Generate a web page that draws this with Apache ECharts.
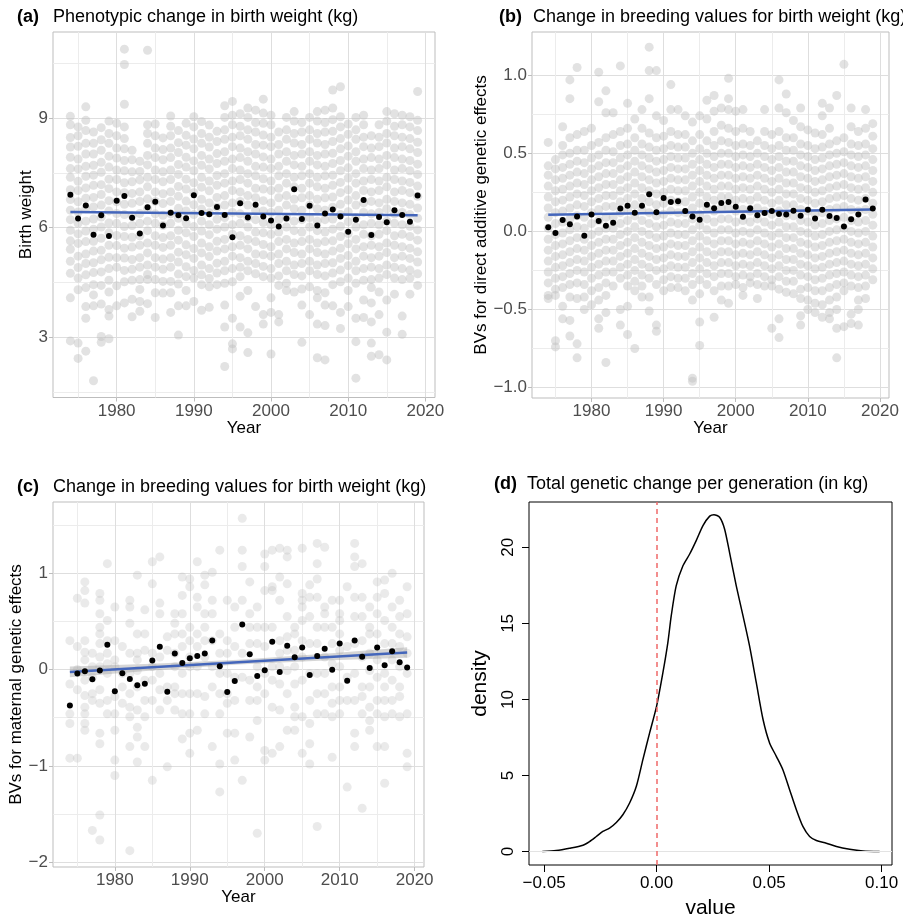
<!DOCTYPE html>
<html>
<head>
<meta charset="utf-8">
<script src="https://cdn.jsdelivr.net/npm/echarts@6/dist/echarts.min.js"></script>
<style>
  html, body { margin: 0; padding: 0; background: #fff; }
  #chart { width: 903px; height: 917px; }
</style>
</head>
<body>
<div id="chart"></div>
<script>
// ---- data ----
const years = [1974, 1975, 1976, 1977, 1978, 1979, 1980, 1981, 1982, 1983, 1984, 1985, 1986, 1987, 1988, 1989,
  1990, 1991, 1992, 1993, 1994, 1995, 1996, 1997, 1998, 1999, 2000, 2001, 2002, 2003, 2004, 2005, 2006,
  2007, 2008, 2009, 2010, 2011, 2012, 2013, 2014, 2015, 2016, 2017, 2018, 2019];

// yearly means (black dots)
const meanA = [6.90, 6.25, 6.61, 5.81, 6.34, 5.77, 6.74, 6.87, 6.27, 5.84, 6.56, 6.71, 6.06, 6.41, 6.34, 6.26,
  6.89, 6.40, 6.37, 6.57, 6.35, 5.74, 6.67, 6.28, 6.63, 6.31, 6.20, 6.03, 6.25, 7.05, 6.24, 6.60, 6.06,
  6.39, 6.50, 6.31, 5.89, 6.22, 6.76, 5.80, 6.29, 6.15, 6.48, 6.35, 6.16, 6.88];
const meanB = [0.026, -0.011, 0.073, 0.045, 0.096, -0.028, 0.109, 0.066, 0.036, 0.056, 0.146, 0.165, 0.120,
  0.165, 0.238, 0.122, 0.214, 0.188, 0.193, 0.131, 0.096, 0.075, 0.171, 0.148, 0.182, 0.188, 0.158, 0.094,
  0.148, 0.103, 0.118, 0.131, 0.111, 0.109, 0.133, 0.100, 0.139, 0.083, 0.139, 0.098, 0.086, 0.032, 0.077,
  0.109, 0.205, 0.146];
const meanC = [-0.372, -0.042, -0.017, -0.100, -0.010, 0.257, -0.226, -0.038, -0.097, -0.163, -0.146, 0.094,
  0.236, -0.229, 0.167, 0.069, 0.118, 0.142, 0.167, 0.302, 0.035, -0.233, -0.118, 0.469, 0.160, -0.066,
  -0.007, 0.288, -0.024, 0.247, 0.128, 0.229, -0.056, 0.142, 0.215, -0.003, 0.271, -0.115, 0.302, 0.132,
  0.017, 0.229, 0.045, 0.191, 0.076, 0.021];

// fitted regression lines (end points) and ribbon of panel (c)
const fitA = [[1974, 6.43], [2019, 6.34]];
const fitB = [[1974, 0.107], [2019, 0.141]];
const fitC = [[1974, -0.024], [2019, 0.177]];
const ribbonYearsC = [1974, 1985, 1996.5, 2008, 2019];
const ribbonLoC = [-0.079, -0.010, 0.052, 0.093, 0.122];
const ribbonHiC = [0.031, 0.060, 0.102, 0.163, 0.232];

// individual records per year (grey clouds), one list per year
const cloudA = [
  [9.05,8.82,8.47,8.21,7.93,7.62,7.38,7.04,6.77,6.48,6.22,5.93,5.64,5.41,5.08,4.75,4.08,2.9],
  [8.76,8.52,8.23,7.88,7.61,7.27,7.02,6.71,6.43,6.12,5.83,5.57,5.22,4.91,4.62,4.3,2.84,2.42],
  [9.31,8.94,8.66,8.31,8.02,7.68,7.41,7.09,6.81,6.52,6.18,5.91,5.62,5.28,5.02,4.71,4.36,3.84,3.52,2.62],
  [8.62,8.31,8.02,7.71,7.44,7.16,6.83,6.57,6.24,5.96,5.63,5.36,5.04,4.77,4.44,4.16,3.86,1.81],
  [8.74,8.41,8.12,7.79,7.52,7.18,6.91,6.62,6.29,6.02,5.71,5.38,5.12,4.79,4.42,3.91,3.02,2.86],
  [8.92,8.58,8.31,7.96,7.66,7.33,7.07,6.74,6.46,6.13,5.86,5.52,5.19,4.88,4.56,4.24,3.76,3.58,2.96],
  [8.86,8.52,8.18,7.91,7.58,7.32,6.98,6.71,6.39,6.12,5.79,5.51,5.18,4.92,4.41,3.86],
  [10.89,10.47,9.38,8.76,8.44,8.16,7.84,7.56,7.23,6.96,6.64,6.36,6.03,5.76,5.44,5.17,4.83,4.52,3.94],
  [8.12,7.86,7.53,7.26,6.94,6.67,6.33,6.06,5.74,5.47,5.13,4.86,4.56,4.04,3.56],
  [7.82,7.54,7.31,6.98,6.72,6.39,6.12,5.78,5.52,5.18,4.92,4.58,4.31,3.98,3.71],
  [10.86,8.82,8.58,8.31,7.98,7.72,7.38,7.12,6.79,6.52,6.18,5.92,5.58,5.31,4.98,4.72,4.58,3.92],
  [8.84,8.52,8.18,7.92,7.58,7.32,6.98,6.72,6.38,6.12,5.78,5.52,5.18,4.92,4.58,4.22,3.54],
  [8.46,8.14,7.86,7.53,7.26,6.93,6.66,6.34,6.06,5.73,5.46,5.14,4.86,4.53,4.21],
  [9.06,8.78,8.52,8.18,7.92,7.58,7.32,6.98,6.72,6.38,6.12,5.78,5.52,5.18,4.92,4.53,4.22,3.68],
  [8.66,8.33,8.06,7.73,7.46,7.13,6.86,6.53,6.26,5.93,5.66,5.33,5.06,4.73,4.46,3.86,3.06],
  [8.86,8.53,8.26,7.93,7.66,7.33,7.06,6.73,6.46,6.13,5.86,5.53,5.26,4.93,4.66,4.28,3.86],
  [9.04,8.76,8.43,8.16,7.83,7.56,7.23,6.96,6.63,6.36,6.03,5.76,5.43,5.16,4.83,4.62,3.98],
  [8.91,8.58,8.31,7.98,7.71,7.38,7.11,6.78,6.51,6.18,5.91,5.58,5.31,4.98,4.71,4.44,3.74],
  [8.81,8.48,8.21,7.88,7.61,7.28,7.01,6.68,6.41,6.08,5.81,5.48,5.21,4.88,4.61,4.38,3.82],
  [8.64,8.36,8.03,7.76,7.43,7.16,6.83,6.56,6.23,5.96,5.63,5.36,5.03,4.76,4.44],
  [9.34,9.02,8.68,8.42,8.08,7.82,7.48,7.22,6.88,6.62,6.28,6.02,5.68,5.42,5.08,4.82,4.48,3.88,3.28,2.2],
  [9.46,9.08,8.82,8.48,8.22,7.88,7.62,7.28,7.02,6.68,6.42,6.08,5.82,5.48,5.22,4.88,4.52,3.52,2.82,2.68],
  [9.12,8.78,8.52,8.18,7.92,7.58,7.32,6.98,6.72,6.38,6.12,5.78,5.52,5.18,4.92,4.66,4.12,3.28],
  [9.28,9.02,8.68,8.42,8.08,7.82,7.48,7.22,6.88,6.62,6.28,6.02,5.68,5.42,5.08,4.82,4.28,3.12,2.58],
  [9.22,8.88,8.62,8.28,8.02,7.68,7.42,7.08,6.82,6.48,6.22,5.88,5.62,5.28,5.02,4.74,3.84],
  [9.52,9.14,8.86,8.54,8.26,7.94,7.66,7.34,7.06,6.74,6.46,6.14,5.86,5.54,5.26,4.94,4.66,3.62,3.36],
  [9.08,8.82,8.48,8.22,7.88,7.62,7.28,7.02,6.68,6.42,6.08,5.82,5.48,5.22,4.88,4.62,4.08,3.68,2.54],
  [8.62,8.28,8.02,7.68,7.42,7.08,6.82,6.48,6.22,5.88,5.62,5.28,5.02,4.68,4.42,3.62,3.42],
  [9.02,8.68,8.42,8.08,7.82,7.48,7.22,6.88,6.62,6.28,6.02,5.68,5.42,5.08,4.82,4.48,4.28],
  [9.18,8.92,8.58,8.32,7.98,7.72,7.38,7.12,6.78,6.52,6.18,5.92,5.58,5.32,4.98,4.72,4.24],
  [8.88,8.62,8.28,8.02,7.68,7.42,7.08,6.82,6.48,6.22,5.88,5.62,5.28,5.02,4.68,4.32,3.88,2.86],
  [9.02,8.68,8.42,8.08,7.82,7.48,7.22,6.88,6.62,6.28,6.02,5.68,5.42,5.08,4.82,4.38,3.62],
  [9.18,8.92,8.58,8.32,7.98,7.72,7.38,7.12,6.78,6.52,6.18,5.92,5.58,5.32,4.98,4.72,4.28,4.08,3.36,2.44],
  [9.22,8.88,8.62,8.28,8.02,7.68,7.42,7.08,6.82,6.48,6.22,5.88,5.62,5.28,5.02,4.68,4.22,3.88,3.32,2.38],
  [9.77,9.28,8.96,8.64,8.36,8.04,7.76,7.44,7.16,6.84,6.56,6.24,5.96,5.64,5.36,5.04,4.76,4.44,3.86],
  [9.86,9.04,8.76,8.44,8.16,7.84,7.56,7.24,6.96,6.64,6.36,6.04,5.76,5.44,5.16,4.84,4.52,3.68,3.24],
  [8.84,8.56,8.24,7.96,7.64,7.36,7.04,6.76,6.44,6.16,5.84,5.56,5.24,4.96,4.62,4.28,3.84],
  [9.02,8.68,8.42,8.08,7.82,7.48,7.22,6.88,6.62,6.28,6.02,5.68,5.42,5.08,4.82,4.48,3.52,2.88,1.88],
  [9.08,8.82,8.48,8.22,7.88,7.62,7.28,7.02,6.68,6.42,6.08,5.82,5.48,5.22,4.88,4.56,4.02,3.54],
  [8.52,8.18,7.92,7.58,7.32,6.98,6.72,6.38,6.12,5.78,5.52,5.18,4.92,4.58,4.36,3.94,3.42,2.84,2.48],
  [8.82,8.48,8.22,7.88,7.62,7.28,7.02,6.68,6.42,6.08,5.82,5.48,5.22,4.88,4.62,4.24,3.62,2.52],
  [9.18,8.92,8.58,8.32,7.98,7.72,7.38,7.12,6.78,6.52,6.18,5.92,5.58,5.32,4.98,4.72,4.02,3.14,2.38],
  [9.12,8.78,8.52,8.18,7.92,7.58,7.32,6.98,6.72,6.38,6.12,5.78,5.52,5.18,4.92,4.62,4.18],
  [9.08,8.82,8.48,8.22,7.88,7.62,7.28,7.02,6.68,6.42,6.08,5.82,5.48,5.22,4.88,4.58,3.58,3.08],
  [9.04,8.76,8.44,8.16,7.84,7.56,7.24,6.96,6.64,6.36,6.04,5.76,5.44,5.16,4.84,4.62,4.18],
  [9.73,8.94,8.66,8.34,8.06,7.74,7.46,7.14,6.86,6.54,6.26,5.94,5.66,5.34,5.06,4.74,4.42]
];
const cloudB = [
  [0.57,0.42,0.36,0.29,0.22,0.15,0.09,0.02,-0.05,-0.12,-0.19,-0.26,-0.33,-0.41,-0.43],
  [0.46,0.4,0.33,0.26,0.19,0.12,0.05,-0.02,-0.09,-0.16,-0.23,-0.3,-0.37,-0.41,-0.7,-0.74],
  [0.67,0.55,0.49,0.41,0.34,0.27,0.2,0.13,0.06,-0.01,-0.08,-0.15,-0.22,-0.29,-0.36,-0.48,-0.56],
  [0.97,0.85,0.6,0.5,0.43,0.36,0.29,0.22,0.15,0.08,0.01,-0.06,-0.13,-0.2,-0.27,-0.34,-0.42,-0.57,-0.67],
  [1.05,0.62,0.52,0.45,0.38,0.31,0.24,0.17,0.1,0.03,-0.04,-0.11,-0.18,-0.25,-0.33,-0.43,-0.72,-0.81],
  [0.64,0.52,0.44,0.37,0.3,0.23,0.16,0.09,0.02,-0.05,-0.12,-0.19,-0.26,-0.34,-0.42,-0.5],
  [0.66,0.55,0.47,0.4,0.33,0.26,0.19,0.12,0.05,-0.02,-0.09,-0.16,-0.23,-0.3,-0.38,-0.47],
  [1.02,0.83,0.57,0.49,0.42,0.35,0.28,0.21,0.14,0.07,0.0,-0.07,-0.14,-0.21,-0.28,-0.36,-0.44,-0.56,-0.62],
  [0.9,0.76,0.6,0.52,0.44,0.37,0.3,0.23,0.16,0.09,0.02,-0.05,-0.12,-0.19,-0.26,-0.33,-0.41,-0.52,-0.84],
  [0.76,0.62,0.51,0.44,0.37,0.3,0.23,0.16,0.09,0.02,-0.05,-0.12,-0.19,-0.26,-0.35],
  [1.06,0.64,0.55,0.47,0.4,0.33,0.26,0.19,0.12,0.05,-0.02,-0.09,-0.16,-0.23,-0.3,-0.5,-0.6],
  [0.82,0.66,0.56,0.49,0.42,0.35,0.28,0.21,0.14,0.07,0.0,-0.07,-0.14,-0.21,-0.28,-0.35,-0.48,-0.66],
  [0.72,0.6,0.52,0.45,0.38,0.31,0.24,0.17,0.1,0.03,-0.04,-0.11,-0.18,-0.25,-0.32,-0.38,-0.75],
  [0.78,0.66,0.56,0.49,0.42,0.35,0.28,0.21,0.14,0.07,0.0,-0.07,-0.14,-0.21,-0.28,-0.35,-0.42],
  [1.18,1.03,0.85,0.63,0.54,0.47,0.4,0.33,0.26,0.19,0.12,0.05,-0.02,-0.09,-0.16,-0.23,-0.3,-0.42,-0.51],
  [1.03,0.74,0.6,0.52,0.45,0.38,0.31,0.24,0.17,0.1,0.03,-0.04,-0.11,-0.18,-0.25,-0.34,-0.6,-0.64],
  [0.71,0.61,0.53,0.46,0.39,0.32,0.25,0.18,0.11,0.04,-0.03,-0.1,-0.17,-0.24,-0.31,-0.38],
  [0.94,0.78,0.64,0.55,0.48,0.41,0.34,0.27,0.2,0.13,0.06,-0.01,-0.08,-0.15,-0.22,-0.29,-0.36],
  [0.78,0.62,0.54,0.47,0.4,0.33,0.26,0.19,0.12,0.05,-0.02,-0.09,-0.16,-0.23,-0.3,-0.36],
  [0.74,0.62,0.54,0.47,0.4,0.33,0.26,0.19,0.12,0.05,-0.02,-0.09,-0.16,-0.23,-0.3,-0.38],
  [0.7,0.58,0.5,0.43,0.36,0.29,0.22,0.15,0.08,0.01,-0.06,-0.13,-0.2,-0.27,-0.34,-0.44,-0.94,-0.96],
  [0.74,0.62,0.53,0.46,0.39,0.32,0.25,0.18,0.11,0.04,-0.03,-0.1,-0.17,-0.24,-0.31,-0.4,-0.58,-0.73],
  [0.84,0.72,0.58,0.5,0.43,0.36,0.29,0.22,0.15,0.08,0.01,-0.06,-0.13,-0.2,-0.27,-0.34],
  [0.87,0.77,0.64,0.55,0.48,0.41,0.34,0.27,0.2,0.13,0.06,-0.01,-0.08,-0.15,-0.22,-0.29,-0.38,-0.55],
  [0.79,0.68,0.58,0.5,0.43,0.36,0.29,0.22,0.15,0.08,0.01,-0.06,-0.13,-0.2,-0.27,-0.35,-0.44],
  [0.98,0.85,0.78,0.66,0.57,0.5,0.43,0.36,0.29,0.22,0.15,0.08,0.01,-0.06,-0.13,-0.2,-0.27,-0.35,-0.46],
  [0.77,0.64,0.55,0.48,0.41,0.34,0.27,0.2,0.13,0.06,-0.01,-0.08,-0.15,-0.22,-0.29,-0.34],
  [0.78,0.66,0.56,0.49,0.42,0.35,0.28,0.21,0.14,0.07,0.0,-0.07,-0.14,-0.21,-0.28,-0.36,-0.41],
  [0.64,0.55,0.48,0.41,0.34,0.27,0.2,0.13,0.06,-0.01,-0.08,-0.15,-0.22,-0.29,-0.33],
  [0.58,0.5,0.43,0.36,0.29,0.22,0.15,0.08,0.01,-0.06,-0.13,-0.2,-0.27,-0.34,-0.43],
  [0.78,0.64,0.55,0.48,0.41,0.34,0.27,0.2,0.13,0.06,-0.01,-0.08,-0.15,-0.22,-0.29,-0.35],
  [0.62,0.53,0.46,0.39,0.32,0.25,0.18,0.11,0.04,-0.03,-0.1,-0.17,-0.24,-0.31,-0.35,-0.62],
  [0.97,0.79,0.64,0.55,0.48,0.41,0.34,0.27,0.2,0.13,0.06,-0.01,-0.08,-0.15,-0.22,-0.29,-0.37,-0.56,-0.68],
  [0.88,0.76,0.6,0.52,0.45,0.38,0.31,0.24,0.17,0.1,0.03,-0.04,-0.11,-0.18,-0.25,-0.32,-0.39],
  [0.71,0.6,0.52,0.45,0.38,0.31,0.24,0.17,0.1,0.03,-0.04,-0.11,-0.18,-0.25,-0.32,-0.4],
  [0.79,0.67,0.56,0.49,0.42,0.35,0.28,0.21,0.14,0.07,0.0,-0.07,-0.14,-0.21,-0.28,-0.37,-0.43,-0.54,-0.6],
  [0.65,0.55,0.48,0.41,0.34,0.27,0.2,0.13,0.06,-0.01,-0.08,-0.15,-0.22,-0.29,-0.36,-0.44,-0.5],
  [0.63,0.53,0.46,0.39,0.32,0.25,0.18,0.11,0.04,-0.03,-0.1,-0.17,-0.24,-0.31,-0.38,-0.46,-0.52],
  [0.82,0.74,0.62,0.54,0.47,0.4,0.33,0.26,0.19,0.12,0.05,-0.02,-0.09,-0.16,-0.23,-0.3,-0.38,-0.47,-0.55],
  [0.79,0.66,0.56,0.49,0.42,0.35,0.28,0.21,0.14,0.07,0.0,-0.07,-0.14,-0.21,-0.28,-0.36,-0.44,-0.52,-0.56],
  [0.87,0.58,0.5,0.43,0.36,0.29,0.22,0.15,0.08,0.01,-0.06,-0.13,-0.2,-0.27,-0.34,-0.42,-0.5,-0.62,-0.81],
  [1.07,0.6,0.51,0.44,0.37,0.3,0.23,0.16,0.09,0.02,-0.05,-0.12,-0.19,-0.26,-0.33,-0.38,-0.61],
  [0.79,0.67,0.56,0.49,0.42,0.35,0.28,0.21,0.14,0.07,0.0,-0.07,-0.14,-0.21,-0.28,-0.35,-0.53,-0.59],
  [0.64,0.55,0.48,0.41,0.34,0.27,0.2,0.13,0.06,-0.01,-0.08,-0.15,-0.22,-0.29,-0.36,-0.44,-0.5,-0.6],
  [0.78,0.66,0.56,0.49,0.42,0.35,0.28,0.21,0.14,0.07,0.0,-0.07,-0.14,-0.21,-0.28,-0.35,-0.43],
  [0.69,0.61,0.53,0.46,0.39,0.32,0.25,0.18,0.11,0.04,-0.03,-0.1,-0.17,-0.24,-0.31]
];
const cloudC = [
  [0.3,-0.15,-0.46,-0.56,-0.92],
  [0.74,0.24,0.0,-0.21,-0.92],
  [0.91,0.82,0.69,0.3,0.18,0.1,-0.11,-0.27,-0.39,-0.46,-0.56,-0.63],
  [0.17,0.03,-0.08,-0.25,-0.32,-1.67],
  [0.79,0.72,0.58,0.44,0.37,0.27,0.13,0.03,-0.21,-0.35,-0.66,-0.77,-1.51,-1.77],
  [1.1,0.51,0.3,0.17,0.06,-0.04,-0.32,-0.46],
  [0.65,0.3,0.1,0.03,-0.28,-0.46,-0.63,-0.94,-1.1],
  [0.24,-0.04,-0.18,-0.35],
  [0.72,0.65,0.48,0.17,-0.04,-0.25,-0.39,-0.49,-0.8,-1.88],
  [0.98,0.37,0.17,0.1,-0.01,-0.18,-0.42,-0.6,-0.7,-0.96],
  [0.62,0.37,0.2,-0.11,-0.32,-0.49,-0.8],
  [1.12,0.89,0.17,0.03,-0.11,-0.32,-1.15],
  [1.17,0.69,0.58,0.13,-0.04,-0.21,-0.42],
  [0.34,0.2,-0.18,-0.32,-1.01],
  [0.58,0.48,0.37,0.17,0.03,-0.18,-0.25,-0.42],
  [0.96,0.77,0.58,0.37,0.24,-0.04,-0.25,-0.46,-0.72],
  [0.94,0.86,0.44,0.3,0.13,0.03,-0.25,-0.46,-0.66,-0.87],
  [1.12,0.75,0.65,0.37,0.24,0.03,-0.25,-0.63],
  [0.98,0.88,0.58,0.44,0.3,0.13,-0.28,-0.46],
  [1.01,0.72,0.58,0.3,0.03,-0.18,-0.8],
  [1.24,0.37,0.17,-0.04,-0.25,-0.46,-0.98,-1.27],
  [0.72,0.3,0.17,-0.04,-0.25,-0.35,-0.66],
  [0.65,0.44,0.24,-0.08,-0.32,-0.66,-0.94],
  [1.57,1.24,1.07,0.72,0.17,-0.08,-1.15],
  [0.91,0.58,0.44,0.27,-0.11,-0.32,-0.7],
  [0.65,0.44,0.27,0.03,-0.18,-0.32,-0.53,-1.7],
  [1.2,1.07,0.82,0.44,0.24,-0.04,-0.25,-0.84,-0.94],
  [1.24,0.86,0.82,0.44,0.03,-0.11,-0.39,-0.87],
  [1.26,0.96,0.72,0.3,0.17,0.03,-0.15,-0.42,-0.8],
  [1.24,1.17,0.89,0.55,0.34,0.2,-0.01,-0.25,-0.63],
  [0.44,0.37,0.2,0.03,-0.15,-0.39,-0.49,-0.63],
  [1.26,0.79,0.72,0.65,0.51,0.3,0.13,-0.11,-0.49,-0.87],
  [0.88,0.75,0.55,0.27,-0.04,-0.32,-0.56,-0.77,-0.98],
  [1.31,1.1,0.94,0.75,0.44,0.27,-0.04,-0.25,-0.46,-1.63],
  [1.27,0.65,0.58,0.44,0.13,-0.04,-0.25,-0.46],
  [0.72,0.44,0.27,0.06,-0.18,-0.35,-0.49,-0.91],
  [0.72,0.58,0.51,0.37,0.2,0.03,-0.18,-0.32,-0.46],
  [0.86,0.24,-0.08,-0.32,-1.22],
  [1.31,1.17,1.07,0.75,0.55,0.27,-0.04,-0.32,-0.66,-0.8],
  [1.1,0.75,0.55,0.3,0.13,-0.18,-0.28,-0.46,-1.44],
  [0.65,0.44,0.37,0.17,-0.01,-0.18,-0.39,-0.53,-0.63],
  [0.91,0.75,0.58,0.37,0.1,-0.08,-0.32,-0.46,-0.8],
  [0.93,0.79,0.51,0.27,-0.04,-0.18,-0.32,-0.49,-0.8,-1.18],
  [1.0,0.65,0.44,0.27,0.1,-0.11,-0.32,-0.46],
  [0.72,0.55,0.37,0.24,0.03,-0.18,-0.28,-0.49],
  [0.86,0.58,0.34,0.17,-0.04,-0.46,-0.87,-1.01]
];

// density of total genetic change (panel d)
const densX = [-0.0508, -0.0446, -0.0387, -0.0327, -0.0298, -0.0268, -0.0239, -0.0209, -0.0179, -0.015,
  -0.012, -0.009, -0.0061, -0.0031, 0, 0.0028, 0.005, 0.0065, 0.0087, 0.0117, 0.0147, 0.0176, 0.0206,
  0.0236, 0.0255, 0.028, 0.0302, 0.0324, 0.0354, 0.0384, 0.0413, 0.0443, 0.0473, 0.0502, 0.0532, 0.0561,
  0.0591, 0.0621, 0.065, 0.068, 0.071, 0.0754, 0.0799, 0.0858, 0.0917, 0.0991];
const densY = [0, 0.07, 0.22, 0.42, 0.66, 0.99, 1.32, 1.54, 1.91, 2.42, 3.19, 4.29, 6.04, 7.8, 9.56, 11.76,
  13.74, 15.49, 17.47, 18.79, 19.56, 20.44, 21.43, 22.05, 22.15, 21.98, 21.21, 19.67, 17.47, 15.49, 13.52,
  11.1, 8.68, 7.14, 6.26, 5.38, 4.07, 2.75, 1.65, 0.99, 0.73, 0.55, 0.33, 0.15, 0.04, 0];

// tick positions
const yearMajor = [1980, 1990, 2000, 2010, 2020];
const yearMinor = [1975, 1985, 1995, 2005, 2015];
const aMajor = [3, 6, 9];
const aMinor = [1.5, 4.5, 7.5, 10.5];
const bMajor = [-1, -0.5, 0, 0.5, 1];
const bMinor = [-0.75, -0.25, 0.25, 0.75];
const cMajor = [-2, -1, 0, 1];
const cMinor = [-1.5, -0.5, 0.5, 1.5];
const dXTicks = [-0.05, 0, 0.05, 0.1];
const dYTicks = [0, 5, 10, 15, 20];

// ---- styling ----
const FONT = '"Liberation Sans", Arial, Helvetica, sans-serif';
const GREY = 'rgb(190,190,190)';
const BLUE = '#4466BB';
const MINUS = '\u2212';

const fmtInt = v => (v < 0 ? MINUS : '') + Math.abs(v);
const fmt1 = v => (v < 0 ? MINUS : '') + Math.abs(v).toFixed(1);
const fmt2 = v => (v < 0 ? MINUS : '') + Math.abs(v).toFixed(2);

function cloudPoints(cloud) {
  const pts = [];
  cloud.forEach((vals, i) => vals.forEach(v => pts.push([years[i], v])));
  return pts;
}

// ggplot style axis pair: labelled major axis plus an unlabelled one for minor grid lines
function ggAxes(isX, gridIndex, min, max, major, minor, fmt, name, nameGap) {
  const main = {
    type: 'value', gridIndex, min, max,
    position: isX ? 'bottom' : 'left',
    axisLine: { show: false, onZero: false },
    axisTick: { show: true, length: 4, customValues: major, lineStyle: { color: '#BDBDBD' } },
    axisLabel: { customValues: major, formatter: fmt, color: '#4D4D4D', fontSize: 17, fontFamily: FONT, margin: 5 },
    splitLine: { show: true, lineStyle: { color: '#DEDEDE', width: 1 } },
    name, nameLocation: 'middle', nameGap, nameMoveOverlap: false,
    nameRotate: isX ? 0 : 90,
    nameTextStyle: { color: '#000', fontSize: 17, fontFamily: FONT }
  };
  const sub = {
    type: 'value', gridIndex, min, max,
    position: isX ? 'top' : 'right',
    axisLine: { show: false, onZero: false },
    axisTick: { show: false, customValues: minor },
    axisLabel: { show: false, customValues: minor },
    splitLine: { show: true, lineStyle: { color: '#ECECEC', width: 1 } }
  };
  return [main, sub];
}

function tag(text, left, top) {
  return { text, left, top, padding: 0, textStyle: { fontSize: 18, fontWeight: 'bold', color: '#000', fontFamily: FONT } };
}
function heading(text, left, top) {
  return { text, left, top, padding: 0, textStyle: { fontSize: 18, fontWeight: 'normal', color: '#000', fontFamily: FONT } };
}
function cloudSeries(axisIndex, cloud, opacity) {
  return { type: 'scatter', xAxisIndex: axisIndex, yAxisIndex: axisIndex, data: cloudPoints(cloud), symbolSize: 9,
    itemStyle: { color: GREY, opacity }, silent: true, z: 2 };
}
function meanSeries(axisIndex, means) {
  return { type: 'scatter', xAxisIndex: axisIndex, yAxisIndex: axisIndex, data: years.map((y, i) => [y, means[i]]),
    symbolSize: 6, itemStyle: { color: '#000', opacity: 1 }, silent: true, z: 4 };
}
function fitSeries(axisIndex, fit) {
  return { type: 'line', xAxisIndex: axisIndex, yAxisIndex: axisIndex, data: fit, showSymbol: false, silent: true,
    lineStyle: { color: BLUE, width: 2.5 }, z: 3 };
}

// fixed panel boxes: no automatic shrinking to fit labels
const panelGrid = { show: true, borderColor: '#BDBDBD', borderWidth: 1, backgroundColor: '#fff',
  containLabel: false, outerBoundsMode: 'none' };

const chart = echarts.init(document.getElementById('chart'));
chart.setOption({
  animation: false,
  backgroundColor: '#fff',
  title: [
    tag('(a)', 17, 8), heading('Phenotypic change in birth weight (kg)', 53, 8),
    tag('(b)', 499, 8), heading('Change in breeding values for birth weight (kg)', 533, 8),
    tag('(c)', 17, 478), heading('Change in breeding values for birth weight (kg)', 53, 478),
    tag('(d)', 494, 475), heading('Total genetic change per generation (in kg)', 527, 475)
  ],
  grid: [
    Object.assign({ left: 53, top: 32, width: 382, height: 365.5 }, panelGrid),
    Object.assign({ left: 532, top: 32, width: 357, height: 366 }, panelGrid),
    Object.assign({ left: 53, top: 502, width: 371, height: 365 }, panelGrid),
    { show: true, left: 529, top: 502, width: 363, height: 363, borderColor: '#000', borderWidth: 1,
      containLabel: false, outerBoundsMode: 'none' }
  ],
  xAxis: [
    ...ggAxes(true, 0, 1971.75, 2021.25, yearMajor, yearMinor, fmtInt, 'Year', 22),
    ...ggAxes(true, 1, 1971.75, 2021.25, yearMajor, yearMinor, fmtInt, 'Year', 22),
    ...ggAxes(true, 2, 1971.75, 2021.25, yearMajor, yearMinor, fmtInt, 'Year', 22),
    {
      type: 'value', gridIndex: 3, min: -0.0567, max: 0.1046, position: 'bottom',
      axisLine: { show: false, onZero: false },
      axisTick: { show: true, length: 7, customValues: dXTicks, lineStyle: { color: '#000' } },
      axisLabel: { customValues: dXTicks, formatter: fmt2, color: '#000', fontSize: 17, fontFamily: FONT, margin: 10 },
      splitLine: { show: false },
      name: 'value', nameLocation: 'middle', nameGap: 33, nameMoveOverlap: false,
      nameTextStyle: { color: '#000', fontSize: 21, fontFamily: FONT }
    }
  ],
  yAxis: [
    ...ggAxes(false, 0, 1.35, 11.36, aMajor, aMinor, fmtInt, 'Birth weight', 18),
    ...ggAxes(false, 1, -1.067, 1.277, bMajor, bMinor, fmt1, 'BVs for direct additive genetic effects', 42),
    ...ggAxes(false, 2, -2.05, 1.74, cMajor, cMinor, fmtInt, 'BVs for maternal genetic effects', 28),
    {
      type: 'value', gridIndex: 3, min: -0.884, max: 22.98, position: 'left',
      axisLine: { show: false, onZero: false },
      axisTick: { show: true, length: 7, customValues: dYTicks, lineStyle: { color: '#000' } },
      axisLabel: { customValues: dYTicks, rotate: 90, color: '#000', fontSize: 17, fontFamily: FONT, margin: 12 },
      splitLine: { show: false },
      name: 'density', nameLocation: 'middle', nameGap: 38, nameRotate: 90, nameMoveOverlap: false,
      nameTextStyle: { color: '#000', fontSize: 21, fontFamily: FONT }
    }
  ],
  series: [
    // (a)
    cloudSeries(0, cloudA, 0.45), fitSeries(0, fitA), meanSeries(0, meanA),
    // (b)
    cloudSeries(2, cloudB, 0.45), fitSeries(2, fitB), meanSeries(2, meanB),
    // (c)
    cloudSeries(4, cloudC, 0.32),
    { type: 'custom', xAxisIndex: 4, yAxisIndex: 4, data: [0], silent: true, z: 3,
      renderItem: (params, api) => {
        const upper = ribbonYearsC.map((y, i) => api.coord([y, ribbonHiC[i]]));
        const lower = ribbonYearsC.map((y, i) => api.coord([y, ribbonLoC[i]])).reverse();
        return { type: 'polygon', shape: { points: upper.concat(lower) }, style: { fill: 'rgba(153,153,153,0.4)' } };
      } },
    fitSeries(4, fitC), meanSeries(4, meanC),
    // (d)
    { type: 'line', xAxisIndex: 6, yAxisIndex: 6, data: densX.map((x, i) => [x, densY[i]]),
      showSymbol: false, smooth: 0.25, silent: true, lineStyle: { color: '#000', width: 1.5 }, z: 3,
      markLine: {
        silent: true, symbol: 'none', label: { show: false },
        data: [
          { yAxis: 0, lineStyle: { color: '#E3E3E3', width: 1, type: 'solid' } },
          { xAxis: 0, lineStyle: { color: '#F06A6A', width: 1.5, type: [5, 4] } }
        ]
      } }
  ]
});
</script>
</body>
</html>
